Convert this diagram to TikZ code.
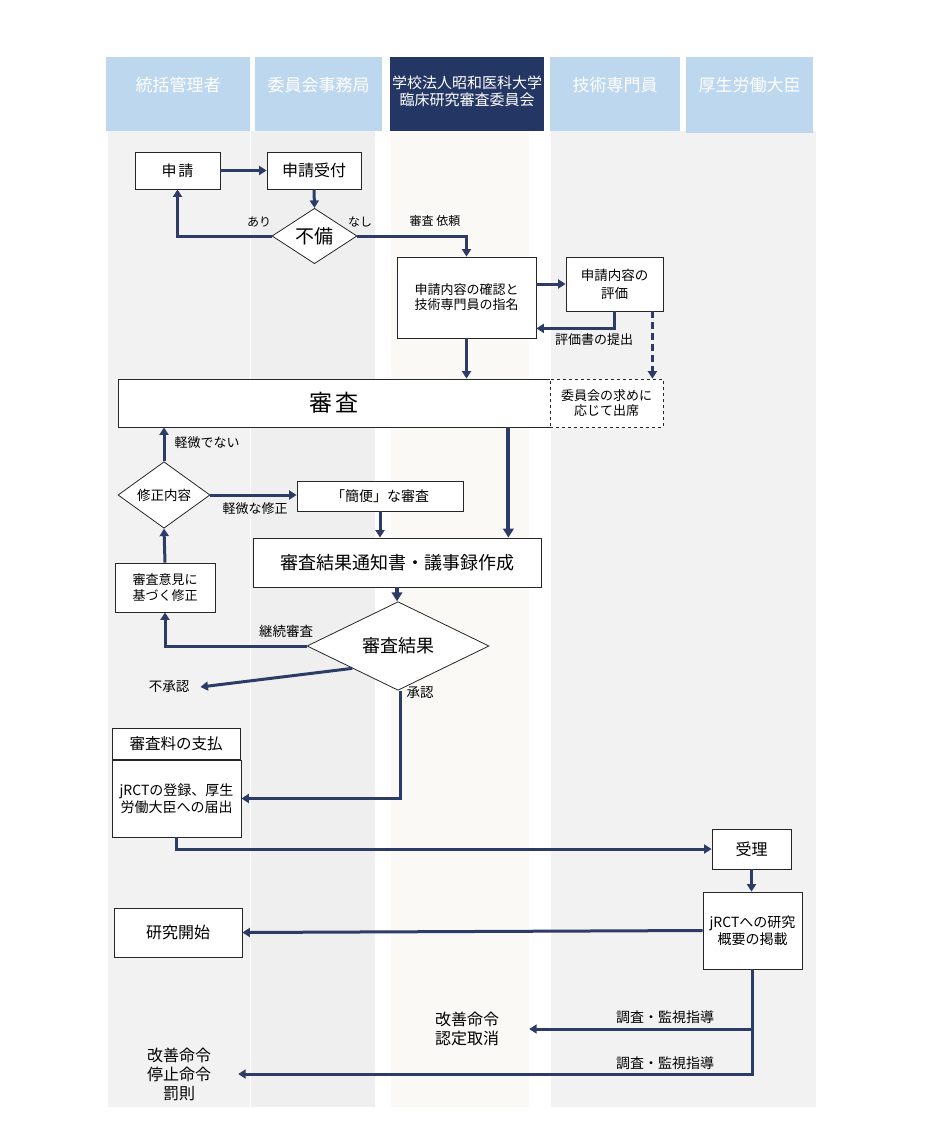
\documentclass[tikz,border=0pt]{standalone}
\usepackage{fontspec}
\setmainfont{Noto Sans CJK JP}
\usetikzlibrary{shapes.geometric,arrows.meta}
\definecolor{headblue}{HTML}{BDD7EE}
\definecolor{headnavy}{HTML}{243764}
\definecolor{flowblue}{HTML}{2C3C66}
\definecolor{lanegray}{HTML}{F2F2F2}
\definecolor{lanegrayb}{HTML}{EFEFEF}
\definecolor{lanecream}{HTML}{FAF9F6}
\begin{document}
\begin{tikzpicture}[x=1pt,y=-1pt,
  box/.style={draw=black!85,line width=0.8pt,fill=white,inner sep=0pt,align=center},
  dia/.style={diamond,draw=black!85,line width=0.8pt,fill=white,inner sep=0pt},
  flow/.style={draw=flowblue,line width=3pt,-{Triangle[width=9pt,length=7.5pt]}},
  bigflow/.style={flow,line width=4pt,-{Triangle[width=10.5pt,length=9pt]}},
  head/.style={fill=headblue,inner sep=0pt,minimum height=74pt},
  headtxt/.style={text=white,inner sep=0pt,align=center,font=\fontsize{17pt}{20pt}\selectfont},
  lbl/.style={inner sep=0pt,align=center,font=\fontsize{13pt}{15pt}\selectfont}]
\useasboundingbox (0,0) rectangle (926,1134);

% lanes
\fill[lanegray] (108,131) rectangle (250,1107);
\fill[lanegrayb] (251,131) rectangle (375,1107);
\fill[lanecream] (391,131) rectangle (529,1107);
\fill[lanegray] (551,131) rectangle (816,1107);

% headers
\node[head,minimum width=144pt] (hd1) at (178,94) {};
\node[head,minimum width=127pt] (hd2) at (318.5,94) {};
\node[head,minimum width=154pt,fill=headnavy] (hd3) at (467,94) {};
\node[head,minimum width=130pt] (hd4) at (615,94) {};
\node[head,minimum width=127pt,minimum height=76pt] (hd5) at (749.5,95) {};
\node[headtxt] (ht1) at ([yshift=9pt]hd1.center) {統括管理者};
\node[headtxt] (ht2) at ([yshift=9pt]hd2.center) {委員会事務局};
\node[headtxt,font=\fontsize{15pt}{17pt}\selectfont] (ht3) at ([yshift=2.5pt]hd3.center) {学校法人昭和医科大学\\臨床研究審査委員会};
\node[headtxt] (ht4) at ([yshift=9pt]hd4.center) {技術専門員};
\node[headtxt] (ht5) at ([yshift=10pt]hd5.center) {厚生労働大臣};

% boxes
\node[box,minimum width=85pt,minimum height=37pt,font=\fontsize{15pt}{18pt}\selectfont] (shinsei) at (177.5,170.5) {申\hspace{2pt}請};
\node[box,minimum width=94pt,minimum height=37pt,font=\fontsize{16pt}{18pt}\selectfont] (uketsuke) at (314,170.5) {申請受付};
\node[dia,minimum width=85pt,minimum height=48pt,font=\fontsize{19pt}{20pt}\selectfont] (fubi) at (314.5,236) {不備};
\node[box,minimum width=139pt,minimum height=81pt,font=\fontsize{13pt}{15pt}\selectfont] (kakunin) at (466.5,297.5) {申請内容の確認と\\技術専門員の指名};
\node[box,minimum width=97pt,minimum height=54pt,font=\fontsize{13.5pt}{18pt}\selectfont] (hyouka) at (614.5,284) {申請内容の\\評価};
\node[box,minimum width=432pt,minimum height=48pt,font=\fontsize{23pt}{25pt}\selectfont] (shinsa) at (334,403) {審\hspace{3pt}査};
\node[box,dashed,minimum width=113pt,minimum height=48pt,font=\fontsize{13pt}{15pt}\selectfont] (shusseki) at (606.5,403) {委員会の求めに\\応じて出席};
\node[dia,minimum width=92pt,minimum height=56pt,font=\fontsize{13.5pt}{15pt}\selectfont] (shuusei) at (164,495) {修正内容};
\node[box,minimum width=166pt,minimum height=30pt,font=\fontsize{14pt}{16pt}\selectfont] (kanben) at (380,496) {「簡便」な審査};
\node[box,minimum width=288pt,minimum height=49pt,font=\fontsize{18pt}{20pt}\selectfont] (tsuchi) at (397,562.5) {審査結果通知書・議事録作成};
\node[box,minimum width=100pt,minimum height=49pt,font=\fontsize{13pt}{16pt}\selectfont] (iken) at (165,587.5) {審査意見に\\基づく修正};
\node[dia,minimum width=182pt,minimum height=62pt,font=\fontsize{18pt}{20pt}\selectfont] (kekka) at (398,646) {審査結果};
\node[box,minimum width=128pt,minimum height=31pt,font=\fontsize{15.5pt}{18pt}\selectfont] (shiharai) at (176,743.5) {審査料の支払};
\node[box,minimum width=129pt,minimum height=77pt,font=\fontsize{14pt}{17.5pt}\selectfont] (touroku) at (176.5,798.5) {jRCTの登録、厚生\\労働大臣への届出};
\node[box,minimum width=79pt,minimum height=40pt,font=\fontsize{16pt}{18pt}\selectfont] (juri) at (751.5,849) {受理};
\node[box,minimum width=99pt,minimum height=77pt,font=\fontsize{14pt}{17pt}\selectfont] (keisai) at (752.5,930.5) {jRCTへの研究\\概要の掲載};
\node[box,minimum width=128pt,minimum height=49pt,font=\fontsize{16pt}{18pt}\selectfont] (kaishi) at (178,932.5) {研究開始};

% end texts
\node[lbl,font=\fontsize{13.5pt}{15pt}\selectfont] (fushounin) at (169,687) {不承認};
\node[lbl,font=\fontsize{16pt}{18.5pt}\selectfont] (kaizen) at (467,1029) {改善命令\\認定取消};
\node[lbl,font=\fontsize{16pt}{19pt}\selectfont] (batsu) at (179,1074) {改善命令\\停止命令\\罰則};

% connectors
\draw[flow] (shinsei.east) -- (uketsuke.west);
\draw[flow] (uketsuke.south) -- (fubi.north);
\draw[flow] (fubi.west) -| (shinsei.south);
\draw[flow] (fubi.east) -| (kakunin.north);
\draw[flow] (kakunin.east |- hyouka.west) -- (hyouka.west);
\draw[flow] (hyouka.south) |- ([yshift=10pt]kakunin.south east);
\draw[flow,dash pattern=on 7pt off 4pt] ([xshift=-11pt]hyouka.south east) -- ([xshift=-11pt]shusseki.north east);
\draw[flow] (kakunin.south) -- (kakunin.south |- shinsa.north);
\path ([xshift=-33pt]tsuchi.north east) coordinate (c1);
\draw[bigflow] (c1 |- shinsa.south) -- (c1);
\draw[flow] (shuusei.north) -- (shuusei.north |- shinsa.south);
\draw[flow] (shuusei.east) -- (shuusei.east -| kanben.west);
\draw[flow] (kanben.south) -- (kanben.south |- tsuchi.north);
\draw[bigflow] (tsuchi.south) -- (tsuchi.south |- kekka.north);
\draw[flow] (kekka.west) -| (iken.south);
\draw[flow] (iken.north) -- (shuusei.south);
\draw[flow] (kekka.south west) -- ([xshift=11pt]fushounin.east);
\draw[flow] ([xshift=2pt]kekka.south) |- (touroku.east);
\draw[flow] (touroku.south) |- (juri.west);
\draw[flow] (juri.south) -- (juri.south |- keisai.north);
\draw[flow] (keisai.west) -- (kaishi.east);
\draw[flow] (keisai.south) |- ([xshift=27pt]batsu.east);
\draw[flow] (keisai.south |- kaizen.east) -- ([xshift=30pt]kaizen.east);

% labels
\node[lbl,font=\fontsize{12pt}{14pt}\selectfont] (ari) at (259,222) {あり};
\node[lbl,font=\fontsize{12pt}{14pt}\selectfont] (nashi) at (360,222) {なし};
\node[lbl,font=\fontsize{12pt}{14pt}\selectfont] (irai) at (435,221) {審査 依頼};
\node[lbl] (teishutsu) at (594,340) {評価書の提出};
\node[lbl] (keibi1) at (207,443) {軽微でない};
\node[lbl] (keibi2) at (255,509) {軽微な修正};
\node[lbl,font=\fontsize{13.5pt}{15pt}\selectfont] (keizoku) at (286,631) {継続審査};
\node[lbl,font=\fontsize{13.5pt}{15pt}\selectfont] (shounin) at (420,693) {承認};
\node[lbl,font=\fontsize{14pt}{16pt}\selectfont] (chousa1) at (665,1017) {調査・監視指導};
\node[lbl,font=\fontsize{14pt}{16pt}\selectfont] (chousa2) at (665,1063) {調査・監視指導};
\end{tikzpicture}
\end{document}
